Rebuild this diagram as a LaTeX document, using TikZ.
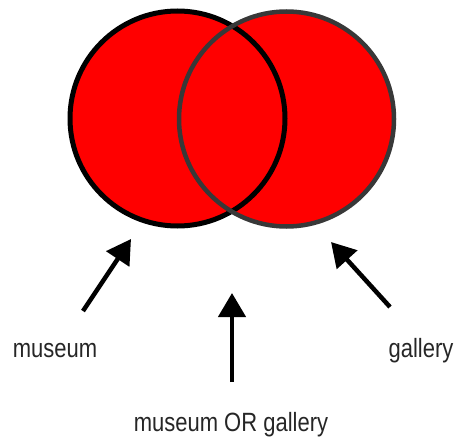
\documentclass[tikz,border=0pt]{standalone}
\usepackage{fontspec}
\setmainfont{Liberation Sans}
\usetikzlibrary{arrows.meta}
\begin{document}
\begin{tikzpicture}[x=1pt,y=-1pt,
  setfill/.style={circle, fill={rgb,255:red,255;green,0;blue,0}, minimum size=215pt, inner sep=0pt},
  lbl/.style={text=black!85, font=\fontsize{22}{26}\selectfont, inner sep=0pt, anchor=base},
  arr/.style={line width=4.5pt, -{Triangle[length=24pt,width=27pt]}}]
\useasboundingbox (0,0) rectangle (460,439);
\node[setfill] (L) at (177.5,118.5) {};
\node[setfill] (R) at (286.5,119) {};
\draw[line width=5pt, black] (L.center) circle[radius=107.5];
\draw[line width=4.5pt, black!78] (R.center) circle[radius=107.5];
\coordinate (lt) at (83,311);
\coordinate (lh) at (131,239);
\coordinate (mt) at (232,382);
\coordinate (mh) at (232,293);
\coordinate (rt) at (390,307);
\coordinate (rh) at (331,242);
\draw[arr] (lt) -- (lh);
\draw[arr] (mt) -- (mh);
\draw[arr] (rt) -- (rh);
\node[lbl] (museum) at (55,357) {\scalebox{1}[1.2]{museum}};
\node[lbl] (gallery) at (421,357) {\scalebox{1}[1.2]{gallery}};
\node[lbl] (either) at (231,431) {\scalebox{1}[1.2]{museum OR gallery}};
\end{tikzpicture}
\end{document}
